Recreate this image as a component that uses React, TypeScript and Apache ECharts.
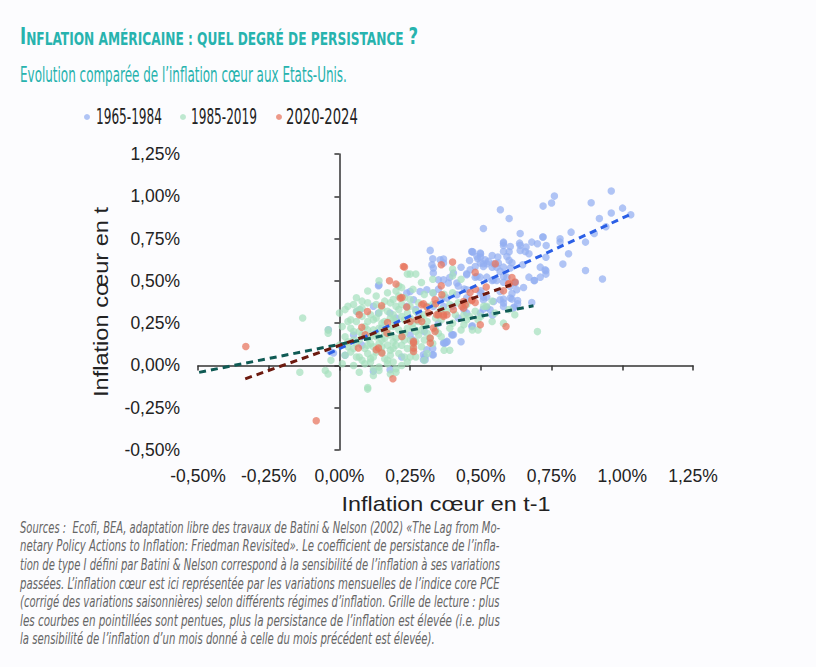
import React, { useEffect, useRef } from 'react';
import * as echarts from 'echarts';

const seriesNames = ['1965-1984', '1985-2019', '2020-2024'];
const seriesColors = ['#93aef1', '#a6e0be', '#e8735c'];
const trendColors = ['#2b5fe6', '#0f5a54', '#6c1a0f'];

const axisMin = -0.5;
const axisMax = 1.25;
const axisStep = 0.25;

// [inflation t-1 (%), inflation t (%)]
const points1965 = [
  [0.961,1.031],[0.760,1.001],[0.750,0.960],[0.720,0.942],[0.890,0.962],[1.001,0.930],[0.961,0.901],[0.919,0.869],[1.030,0.891],[0.942,0.820],
  [0.901,0.780],[0.870,0.729],[0.819,0.788],[0.569,0.920],[0.600,0.869],[0.509,0.810],[0.639,0.780],[0.720,0.759],[0.780,0.749],[0.780,0.729],
  [0.580,0.729],[0.580,0.709],[0.639,0.710],[0.639,0.680],[0.660,0.700],[0.680,0.729],[0.700,0.719],[0.731,0.709],[0.670,0.660],[0.648,0.595],
  [0.730,0.640],[0.810,0.660],[0.790,0.599],[0.870,0.561],[0.930,0.511],[0.710,0.581],[0.730,0.560],[0.730,0.540],[0.710,0.522],[0.690,0.502],
  [0.670,0.522],[0.651,0.461],[0.680,0.372],[0.630,0.384],[0.630,0.365],[0.618,0.345],[0.600,0.672],[0.600,0.621],[0.610,0.607],[0.540,0.650],
  [0.560,0.641],[0.499,0.660],[0.499,0.641],[0.469,0.672],[0.489,0.631],[0.509,0.601],[0.521,0.601],[0.545,0.601],[0.540,0.581],[0.556,0.581],
  [0.580,0.581],[0.450,0.542],[0.480,0.522],[0.497,0.522],[0.521,0.522],[0.540,0.502],[0.556,0.502],[0.580,0.492],[0.592,0.522],[0.621,0.487],
  [0.580,0.392],[0.580,0.369],[0.610,0.425],[0.610,0.392],[0.509,0.404],[0.521,0.404],[0.500,0.441],[0.541,0.296],[0.521,0.343],[0.509,0.333],
  [0.470,0.235],[0.400,0.181],[0.370,0.132],[0.380,0.138],[0.441,0.452],[0.368,0.629],[0.637,0.723],[0.657,0.674],[0.719,0.759],[0.727,0.566],
  [0.688,0.502],[0.621,0.490],[0.580,0.723],[0.604,0.703],[0.580,0.674],[0.592,0.644],[0.562,0.605],[0.527,0.615],[0.498,0.664],[0.515,0.625],
  [0.468,0.674],[0.486,0.644],[0.498,0.605],[0.480,0.585],[0.509,0.585],[0.462,0.566],[0.486,0.526],[0.568,0.556],[0.604,0.576],[0.580,0.526],
  [0.545,0.506],[0.604,0.467],[0.627,0.447],[0.568,0.437],[0.568,0.388],[0.604,0.398],[0.580,0.349],[0.615,0.339],[0.356,0.625],[0.368,0.605],
  [0.327,0.595],[0.332,0.546],[0.350,0.506],[0.368,0.506],[0.385,0.487],[0.403,0.546],[0.415,0.487],[0.285,0.437],[0.309,0.447],[0.250,0.437],
  [0.238,0.428],[0.262,0.388],[0.332,0.428],[0.380,0.398],[0.415,0.418],[0.450,0.447],[0.498,0.428],[0.509,0.388],[0.545,0.378],[0.332,0.349],
  [0.368,0.349],[0.533,0.329],[0.498,0.310],[0.450,0.310],[0.238,0.349],[0.397,0.181],[0.368,0.132],[0.380,0.142],[0.309,0.093],[0.297,0.063],
  [0.297,0.034],[0.329,0.063],[0.468,0.230],[0.120,-0.035],[0.179,-0.025],[-0.033,0.083],[-0.021,0.073],[-0.039,0.211],[0.138,0.471],[0.062,0.319],
  [0.073,0.329],[0.138,0.310],[0.179,0.310],[0.303,0.034],[0.303,0.053],[0.332,0.063],[0.374,0.132],[0.403,0.181],[0.321,0.680],[0.330,0.631],
  [0.472,0.670],[0.140,0.475],[0.450,0.536],[0.332,0.576],[0.28,0.30],[0.35,0.25],[0.42,0.28],[0.30,0.20],[0.25,0.18],[0.40,0.35],
  [0.44,0.33],[0.36,0.39],[0.27,0.33],[0.45,0.40],[0.20,0.28],[0.15,0.22],[0.08,0.12],[0.05,0.18],[0.12,0.35],[0.42,0.47],
  [0.39,0.52],[0.43,0.58],[0.35,0.45],[0.46,0.62],[0.26,0.15],[0.33,0.10],[0.43,0.14],[0.22,0.05],[0.02,0.06],
];

const points1985 = [
  [0.14,0.50],[0.25,0.54],[0.27,0.54],[0.29,0.49],[0.21,0.47],[0.22,0.46],[0.24,0.54],[0.40,0.53],[0.40,0.57],
  [0.13,0.41],[0.20,0.44],[0.21,0.41],[0.23,0.40],[0.30,0.42],[0.33,0.43],[0.40,0.43],[0.37,0.42],[0.06,0.40],[0.10,0.44],[0.17,0.43],[0.26,0.45],[0.33,0.51],[0.43,0.51],
  [0.08,0.38],[0.10,0.37],[0.13,0.36],[0.16,0.38],[0.18,0.37],[0.03,0.35],[0.05,0.36],[0.22,0.36],[0.28,0.37],[0.39,0.36],[0.42,0.37],[0.51,0.35],[0.52,0.35],[0.54,0.38],[0.45,0.36],[0.33,0.36],[0.25,0.35],
  [0.00,0.31],[0.02,0.33],[0.06,0.32],[0.07,0.33],[0.11,0.30],[0.14,0.31],[0.17,0.32],[0.19,0.30],[0.21,0.33],[0.24,0.31],[0.27,0.32],[0.30,0.30],[0.35,0.31],[0.38,0.32],[0.44,0.30],[0.48,0.32],[0.55,0.31],[0.60,0.33],[0.62,0.30],
  [-0.13,0.28],[0.03,0.26],[0.06,0.26],[0.10,0.26],[0.12,0.27],[0.15,0.25],[0.18,0.28],[0.20,0.26],[0.23,0.27],[0.26,0.25],[0.29,0.28],[0.31,0.26],[0.36,0.27],[0.40,0.25],[0.45,0.27],[0.50,0.29],[0.54,0.26],[0.49,0.27],[0.58,0.25],
  [-0.04,0.21],[-0.04,0.19],[0.01,0.23],[0.04,0.22],[0.07,0.20],[0.09,0.23],[0.12,0.21],[0.14,0.22],[0.16,0.20],[0.19,0.23],[0.21,0.21],[0.24,0.22],[0.27,0.20],[0.30,0.23],[0.34,0.21],[0.36,0.17],[0.43,0.21],[0.47,0.21],[0.49,0.21],[0.70,0.20],[0.31,0.19],
  [0.02,0.17],[0.05,0.15],[0.08,0.18],[0.10,0.16],[0.13,0.17],[0.15,0.15],[0.18,0.18],[0.20,0.16],[0.22,0.17],[0.25,0.15],[0.28,0.18],[0.32,0.16],[0.26,0.12],[0.11,0.13],
  [0.00,0.12],[0.03,0.11],[0.06,0.13],[0.09,0.10],[0.12,0.11],[0.14,0.13],[0.17,0.12],[0.19,0.10],[0.22,0.12],[0.24,0.10],[0.29,0.11],[0.37,0.09],[0.39,0.09],
  [0.02,0.06],[0.04,0.08],[0.07,0.05],[0.10,0.07],[0.12,0.05],[0.15,0.08],[0.18,0.06],[0.21,0.07],[0.23,0.05],[0.25,0.05],[0.27,0.05],[0.16,0.04],[0.08,0.03],
  [-0.03,0.03],[0.05,0.00],[0.09,0.01],[0.11,0.02],[0.14,-0.01],[0.17,0.01],[0.20,-0.02],[0.22,0.00],[0.14,-0.03],[0.19,0.02],
  [-0.14,-0.04],[-0.05,-0.03],[-0.04,-0.05],[0.07,-0.04],[0.10,-0.13],[0.10,-0.14],[0.20,-0.04],[0.12,-0.06],
  [0.04,0.27],[0.08,0.29],[0.13,0.28],[0.16,0.26],[0.19,0.27],[0.22,0.29],[0.25,0.28],[0.28,0.26],[0.05,0.20],[0.10,0.21],
  [0.13,0.19],[0.17,0.22],[0.23,0.19],[0.26,0.22],[0.29,0.21],[0.03,0.14],[0.07,0.15],[0.11,0.17],[0.16,0.16],[0.19,0.14],
  [0.23,0.15],[0.27,0.14],[0.30,0.15],[0.05,0.10],[0.10,0.12],[0.15,0.11],[0.20,0.12],[0.26,0.09],[0.31,0.07],[0.13,0.08],
  [0.18,0.09],[0.06,0.05],[0.11,0.04],[0.17,0.03],[0.24,0.02],[0.30,0.03],[0.01,0.01],[0.12,-0.02],[0.18,-0.05],[0.08,0.34],
  [0.15,0.34],[0.20,0.35],[0.19,0.39],[0.25,0.39],[0.31,0.35],[0.36,0.33],[0.41,0.30],[0.46,0.29],[0.34,0.28],[0.39,0.22],
  [0.44,0.24],[0.33,0.13],[0.35,0.19],
];

const points2020 = [
  [0.230,0.582],[0.177,0.501],[0.200,0.481],[0.221,0.402],[0.149,0.353],[0.099,0.319],[0.170,0.254],[0.079,0.225],[0.067,0.103],[0.130,0.093],
  [0.138,0.103],[0.150,0.073],[0.091,0.181],[0.189,-0.079],[0.221,0.171],[0.168,0.191],[-0.331,0.112],[-0.082,-0.327],[0.238,0.345],[0.262,0.132],
  [0.262,0.103],[0.262,0.083],[0.291,0.260],[0.315,0.310],[0.344,0.300],[0.368,0.300],[0.332,0.221],[0.338,0.201],[0.341,0.365],[0.297,0.365],
  [0.439,0.378],[0.468,0.384],[0.498,0.240],[0.589,0.230],[0.250,0.260],[0.321,0.162],[0.321,0.132],[0.262,0.142],[0.226,0.585],[0.360,0.595],
  [0.400,0.611],[0.551,0.601],[0.480,0.550],[0.360,0.471],[0.462,0.431],[0.519,0.463],[0.598,0.483],[0.621,0.493],[0.215,0.398],[0.362,0.418],
  [0.291,0.359],[0.309,0.345],[0.439,0.339],[0.445,0.359],[0.468,0.388],[0.350,0.300],[0.380,0.300],[0.274,0.270],[0.338,0.388],[0.403,0.329],
  [0.610,0.520],[0.600,0.481],[0.580,0.441],[0.481,0.451],[0.480,0.372],[0.433,0.349],[0.368,0.290],[0.070,0.300],
];

// dashed persistence lines: [start, end] in data units
const trend1965 = [[-0.039, 0.069], [1.031, 0.895]];
const trend1985 = [[-0.496, -0.041], [0.686, 0.353]];
const trend2020 = [[-0.333, -0.079], [0.607, 0.477]];

const titleBig1 = 'I';
const titleSmall = 'NFLATION AMÉRICAINE : QUEL DEGRÉ DE PERSISTANCE ';
const titleBig2 = '?';
const subtitle = 'Evolution comparée de l’inflation cœur aux Etats-Unis.';
const xName = 'Inflation cœur en t-1';
const yName = 'Inflation cœur en t';
const footnoteLines = [
  'Sources :  Ecofi, BEA, adaptation libre des travaux de Batini & Nelson (2002) «The Lag from Mo-',
  'netary Policy Actions to Inflation: Friedman Revisited». Le coefficient de persistance de l’infla-',
  'tion de type I défini par Batini & Nelson correspond à la sensibilité de l’inflation à ses variations',
  'passées. L’inflation cœur est ici représentée par les variations mensuelles de l’indice core PCE',
  '(corrigé des variations saisonnières) selon différents régimes d’inflation. Grille de lecture : plus',
  'les courbes en pointillées sont pentues, plus la persistance de l’inflation est élevée (i.e. plus',
  'la sensibilité de l’inflation d’un mois donné à celle du mois précédent est élevée).',
];

const cond = '"DejaVu Sans Condensed", "DejaVu Sans", sans-serif';
const sans = '"Liberation Sans", Arial, sans-serif';
const teal = '#27b3ae';

const fmt = (v: number) => v.toFixed(2).replace('.', ',') + '%';

let ctx: CanvasRenderingContext2D | null = null;
const measure = (text: string, font: string) => {
  if (!ctx) ctx = document.createElement('canvas').getContext('2d');
  ctx!.font = font;
  return ctx!.measureText(text).width;
};

export default function App() {
  const ref = useRef<HTMLDivElement>(null);
  useEffect(() => {
    const chart = echarts.init(ref.current!, null, { renderer: 'svg' });
    const axisBase = { type: 'value', min: axisMin, max: axisMax, interval: axisStep, splitLine: { show: false } };
    const scatter = (name: string, data: number[][], color: string) => ({
      name, type: 'scatter', data, symbolSize: 7.5,
      itemStyle: { color, opacity: 0.72 },
      emphasis: { disabled: true }, z: 2,
    });
    const trend = (data: number[][], color: string) => ({
      type: 'line', data, symbol: 'none', silent: true, z: 5,
      lineStyle: { color, width: 3, type: [7, 5] },
    });

    const fitted = (text: string, size: number, family: string, target: number, style = 'normal') =>
      target / measure(text, `${style} normal ${size}px ${family}`);

    // title
    const bigSize = 23, smallSize = 17;
    const tf = (s: number) => `normal bold ${s}px ${cond}`;
    const titleW = measure(titleBig1, tf(bigSize)) + measure(titleSmall, tf(smallSize)) + measure(titleBig2, tf(bigSize));
    const titleScale = 398 / titleW;

    const subSize = 20.5;
    const subScale = fitted(subtitle, subSize, cond, 327);
    const legendX = [87, 183, 279];
    const legendTextX = [96, 191, 286];
    const legendTextW = [66, 66, 72];
    const legendSize = 20.5;

    const footSize = 15.5;
    const footScales = footnoteLines.map((t) => fitted(t, footSize, cond, 480, 'italic'));
    const avgScale = footScales.slice(0, 6).reduce((a, b) => a + b, 0) / 6;

    chart.setOption({
      animation: false,
      backgroundColor: '#fcfcfe',
      grid: { left: 198, top: 154, width: 495, height: 296 },
      legend: seriesNames.map((n, i) => ({
        data: [n], left: legendX[i] - 3, top: 114, padding: 0, icon: 'circle', itemWidth: 6, itemHeight: 6,
        formatter: () => '', selectedMode: false, textStyle: { fontSize: 1 },
      })),
      xAxis: [
        { ...axisBase, axisLine: { onZero: true, lineStyle: { color: '#333', width: 1.5 } },
          axisTick: { show: true, length: 5, lineStyle: { color: '#333', width: 1.5 } }, axisLabel: { show: false } },
        { ...axisBase, position: 'bottom', axisLine: { show: false, onZero: false }, axisTick: { show: false },
          axisLabel: { formatter: fmt, margin: 17, fontFamily: sans, fontSize: 17.5, color: '#222' } },
      ],
      yAxis: [
        { ...axisBase, axisLine: { onZero: true, lineStyle: { color: '#333', width: 1.5 } },
          axisTick: { show: true, length: 5, lineStyle: { color: '#333', width: 1.5 } }, axisLabel: { show: false } },
        { ...axisBase, position: 'left', axisLine: { show: false, onZero: false }, axisTick: { show: false },
          axisLabel: { formatter: fmt, margin: 18, fontFamily: sans, fontSize: 17.5, color: '#222' } },
      ],
      series: [
        scatter(seriesNames[0], points1965, seriesColors[0]),
        scatter(seriesNames[1], points1985, seriesColors[1]),
        scatter(seriesNames[2], points2020, seriesColors[2]),
        trend(trend1965, trendColors[0]),
        trend(trend1985, trendColors[1]),
        trend(trend2020, trendColors[2]),
      ],
      graphic: [
        { type: 'text', x: 20, y: 48, scaleX: titleScale, style: {
          text: '{b|' + titleBig1 + '}{s|' + titleSmall + '}{b|' + titleBig2 + '}',
          verticalAlign: 'bottom',
          rich: {
            b: { fontFamily: cond, fontSize: bigSize, fontWeight: 'bold', fill: teal, verticalAlign: 'bottom' },
            s: { fontFamily: cond, fontSize: smallSize, fontWeight: 'bold', fill: teal, verticalAlign: 'bottom' },
          } } },
        { type: 'text', x: 20, y: 75, scaleX: subScale, style: { text: subtitle, fontFamily: cond, fontSize: subSize, fill: teal, verticalAlign: 'middle' } },
        ...seriesNames.map((n, i) => ({
          type: 'text', x: legendTextX[i], y: 117, scaleX: fitted(n, legendSize, cond, legendTextW[i]),
          style: { text: n, fontFamily: cond, fontSize: legendSize, fill: '#222', verticalAlign: 'middle' },
        })),
        { type: 'text', x: 446, y: 504, scaleX: fitted(xName, 20, sans, 209),
          style: { text: xName, fontFamily: sans, fontSize: 20, fill: '#222', align: 'center', verticalAlign: 'middle' } },
        { type: 'text', x: 101, y: 302, rotation: Math.PI / 2, scaleX: fitted(yName, 20, sans, 190),
          style: { text: yName, fontFamily: sans, fontSize: 20, fill: '#222', align: 'center', verticalAlign: 'middle' } },
        ...footnoteLines.map((t, i) => ({
          type: 'text', x: 20, y: 527 + i * 18.6, scaleX: i < 6 ? footScales[i] : avgScale,
          style: { text: t, fontFamily: cond, fontSize: footSize, fontStyle: 'italic', fill: '#666', verticalAlign: 'middle' },
        })),
      ],
    });
    return () => chart.dispose();
  }, []);
  return (
    <div style={{ position: 'absolute', left: 0, top: 0, width: 816, height: 667, background: '#fff' }}>
      <div ref={ref} style={{ width: 816, height: 667 }} />
    </div>
  );
}
